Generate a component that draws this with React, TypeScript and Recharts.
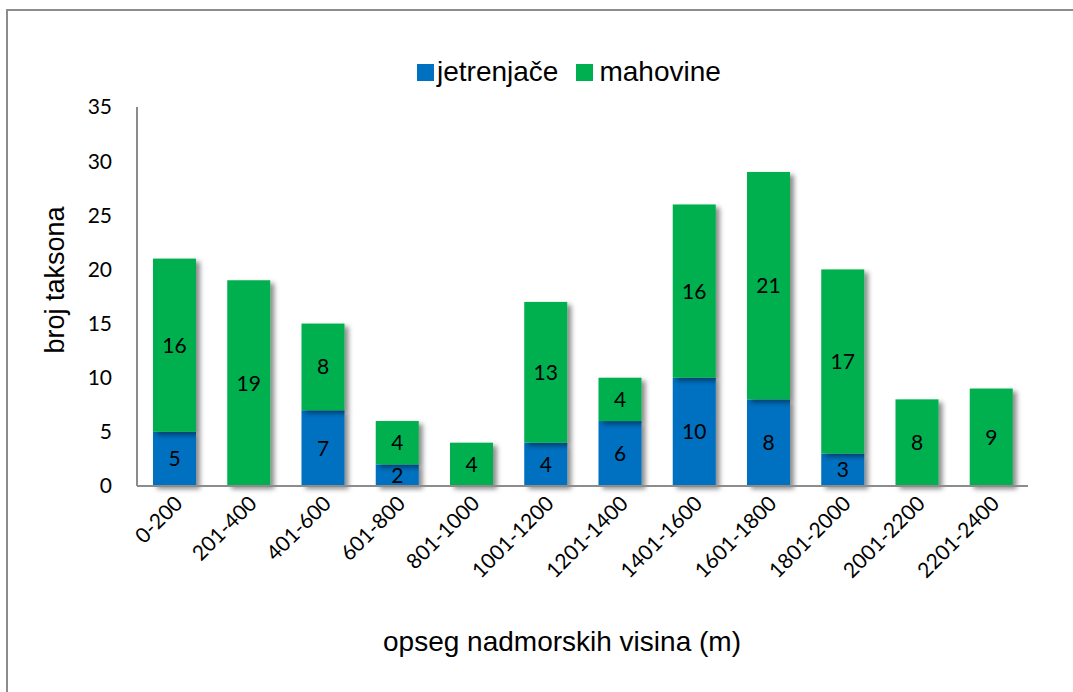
import { BarChart, Bar, XAxis, YAxis, LabelList } from "recharts";

const ranges = [
  "0-200", "201-400", "401-600", "601-800", "801-1000", "1001-1200",
  "1201-1400", "1401-1600", "1601-1800", "1801-2000", "2001-2200", "2201-2400",
];
const jetrenjace = [5, 0, 7, 2, 0, 4, 6, 10, 8, 3, 0, 0];
const mahovine = [16, 19, 8, 4, 4, 13, 4, 16, 21, 17, 8, 9];
const yTicks = [0, 5, 10, 15, 20, 25, 30, 35];

const data = ranges.map((r, i) => ({
  range: r,
  jetrenjace: jetrenjace[i],
  mahovine: mahovine[i],
}));

const BLUE = "#0070C0";
const GREEN = "#00B050";
const AXIS = "#8c8c8c";
const tickFont = "Lato, Calibri, 'Open Sans', sans-serif";
const titleFont = "'Liberation Sans', Arial, sans-serif";

const ShadowBar = (props: any) => {
  const { x, y, width, height, fill } = props;
  if (!height || height <= 0) return null;
  return <rect x={x} y={y} width={width} height={height} fill={fill} filter="url(#barShadow)" />;
};

const XTick = (props: any) => {
  const { x, y, payload } = props;
  return (
    <text
      transform={`translate(${x + 6},${y + 7}) rotate(-45)`}
      textAnchor="end"
      dominantBaseline="middle"
      fontFamily={tickFont}
      fontSize={21}
      fill="#000"
    >
      {payload.value}
    </text>
  );
};

const hideZero = (v: any) => (v ? v : "");

export default function App() {
  return (
    <div style={{ position: "absolute", left: 0, top: 0, width: 1073, height: 692, overflow: "hidden", background: "#fff" }}>
      <svg width={0} height={0} style={{ position: "absolute" }}>
        <defs>
          <filter id="barShadow" x="-20%" y="-20%" width="150%" height="150%">
            <feDropShadow dx={4} dy={3} stdDeviation={2.5} floodColor="#000" floodOpacity={0.45} />
          </filter>
        </defs>
      </svg>
      <div
        style={{
          position: "absolute",
          left: 6,
          top: 9,
          width: 1200,
          height: 800,
          borderLeft: `2px solid ${AXIS}`,
          borderTop: `2px solid ${AXIS}`,
        }}
      />
      <div
        style={{
          position: "absolute",
          left: 417,
          top: 56,
          display: "flex",
          alignItems: "center",
          fontFamily: titleFont,
          fontSize: 28,
          color: "#000",
          whiteSpace: "nowrap",
        }}
      >
        <span style={{ width: 17, height: 17, background: BLUE, display: "inline-block", marginRight: 3 }} />
        <span>jetrenjače</span>
        <span style={{ width: 17, height: 17, background: GREEN, display: "inline-block", marginLeft: 18, marginRight: 6 }} />
        <span>mahovine</span>
      </div>
      <div style={{ position: "absolute", left: 0, top: 0 }}>
        <BarChart
          width={1073}
          height={692}
          data={data}
          margin={{ top: 107, right: 45, left: 0, bottom: 0 }}
          barSize={43}
        >
          <XAxis
            dataKey="range"
            interval={0}
            tick={<XTick />}
            tickLine={false}
            axisLine={{ stroke: AXIS, strokeWidth: 2 }}
            height={206}
          />
          <YAxis
            domain={[0, 35]}
            ticks={yTicks}
            width={137}
            tickLine={false}
            tickSize={0}
            tickMargin={25}
            axisLine={{ stroke: AXIS, strokeWidth: 2 }}
            tick={{ fontFamily: tickFont, fontSize: 21, fill: "#000" }}
          />
          <Bar dataKey="jetrenjace" name="jetrenjače" stackId="a" fill={BLUE} shape={<ShadowBar />} isAnimationActive={false}>
            <LabelList dataKey="jetrenjace" position="center" formatter={hideZero} fill="#000" fontFamily={tickFont} fontSize={21} />
          </Bar>
          <Bar dataKey="mahovine" name="mahovine" stackId="a" fill={GREEN} shape={<ShadowBar />} isAnimationActive={false}>
            <LabelList dataKey="mahovine" position="center" formatter={hideZero} fill="#000" fontFamily={tickFont} fontSize={21} />
          </Bar>
        </BarChart>
      </div>
      <div
        style={{
          position: "absolute",
          left: 55,
          top: 280,
          transform: "translate(-50%, -50%) rotate(-90deg)",
          fontFamily: titleFont,
          fontSize: 27,
          whiteSpace: "nowrap",
          color: "#000",
        }}
      >
        broj taksona
      </div>
      <div
        style={{
          position: "absolute",
          left: 562,
          top: 642,
          transform: "translate(-50%, -50%)",
          fontFamily: titleFont,
          fontSize: 28,
          whiteSpace: "nowrap",
          color: "#000",
        }}
      >
        opseg nadmorskih visina (m)
      </div>
    </div>
  );
}
